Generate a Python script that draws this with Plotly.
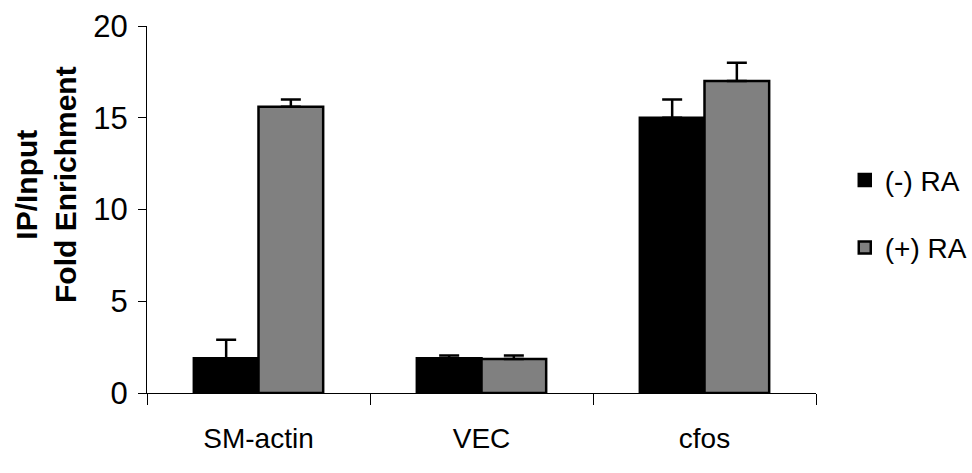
import plotly.graph_objects as go

categories = ["SM-actin", "VEC", "cfos"]
minus_ra = [1.9, 1.9, 15.0]
minus_ra_err = [1.0, 0.15, 1.0]
plus_ra = [15.6, 1.85, 17.0]
plus_ra_err = [0.4, 0.2, 1.0]
series_names = ["(-) RA", "(+) RA"]
y_ticks = [0, 5, 10, 15, 20]

FONT = "Liberation Sans, Arial, sans-serif"

fig = go.Figure()
fig.add_trace(go.Bar(
    x=categories, y=minus_ra, name=series_names[0], legendgroup="a",
    marker=dict(color="#000000", line=dict(color="#000000", width=2.5)),
    error_y=dict(type="data", array=minus_ra_err, arrayminus=[0, 0, 0],
                 symmetric=False, color="#000000", thickness=2.5, width=10),
))
fig.add_trace(go.Bar(
    x=categories, y=plus_ra, name=series_names[1], legendgroup="b",
    marker=dict(color="#808080", line=dict(color="#000000", width=2.5)),
    error_y=dict(type="data", array=plus_ra_err, arrayminus=[0, 0, 0],
                 symmetric=False, color="#000000", thickness=2.5, width=10),
))

fig.update_layout(
    width=972, height=473,
    margin=dict(l=147, r=156, t=26, b=80, autoexpand=False),
    paper_bgcolor="white", plot_bgcolor="white",
    barmode="group", bargap=0.42, bargroupgap=0,
    font=dict(family=FONT, color="#000000", size=28),
    showlegend=True,
    legend=dict(x=1.043, y=0.488, xanchor="left", yanchor="middle",
                font=dict(size=28, family=FONT), bgcolor="rgba(0,0,0,0)",
                tracegroupgap=28, itemwidth=30),
    xaxis=dict(
        showline=True, linecolor="#000000", linewidth=1, automargin=False,
        ticks="outside", tickson="boundaries", ticklen=11, tickcolor="#000000",
        tickfont=dict(size=28, family=FONT), ticklabelstandoff=20,
        showgrid=False, zeroline=False,
    ),
    yaxis=dict(
        range=[0, 20], tickvals=y_ticks, automargin=False,
        showline=True, linecolor="#000000", linewidth=1,
        ticks="outside", ticklen=8, tickcolor="#000000",
        tickfont=dict(size=31, family=FONT), ticklabelstandoff=4,
        showgrid=False, zeroline=False,
    ),
    annotations=[dict(
        text="<b>IP/Input<br>Fold Enrichment</b>", textangle=-90,
        xref="paper", yref="paper",
        x=(46 - 147) / 669, y=(393 - 185) / 367,
        xanchor="center", yanchor="middle", showarrow=False,
        font=dict(size=30, family=FONT),
    )],
)

fig.write_html("out.html")
